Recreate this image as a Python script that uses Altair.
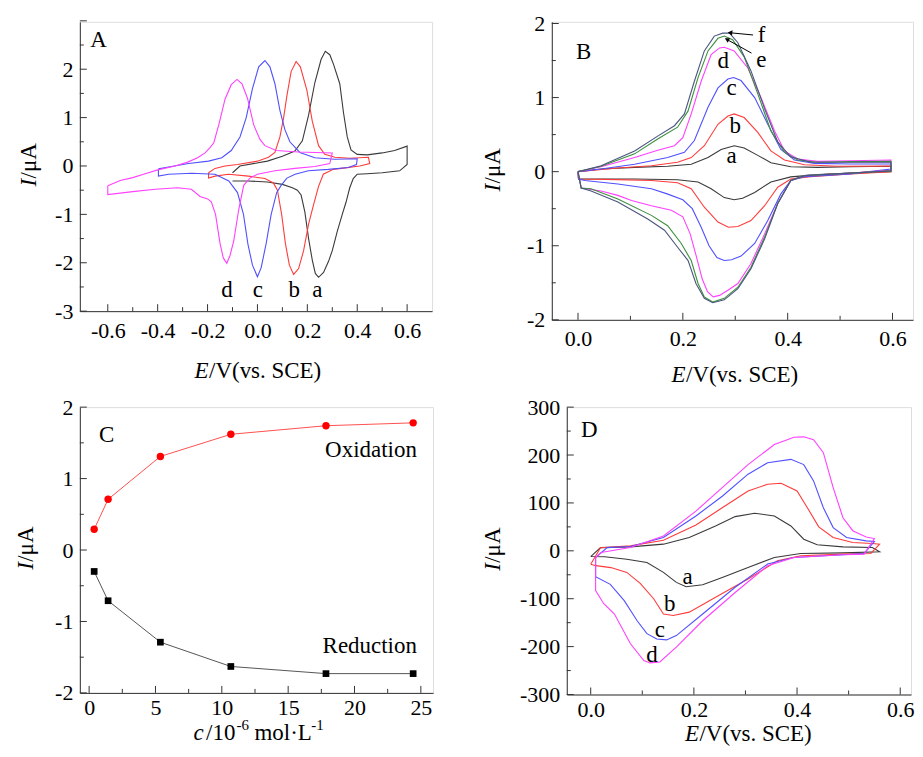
import altair as alt
import pandas as pd

FONT = "Liberation Serif, Times New Roman, Times, DejaVu Serif, serif"
TICK_FS = 22
TITLE_FS = 23
AXC = "#333333"
BLACK = "#3a3a3a"
RED = "#ff3c3c"
BLUE = "#5050ff"
MAG = "#ff40ff"
GREEN = "#3d8f3d"
SLATE = "#4b5680"

# ---------------- Panel A ----------------
A_a_E = [-0.10, -0.07, 0.04, 0.10, 0.15, 0.18, 0.205, 0.23, 0.255, 0.272, 0.29, 0.305, 0.33, 0.345, 0.36, 0.375, 0.40, 0.44, 0.50, 0.55, 0.60,
         0.60, 0.57, 0.50, 0.44, 0.40, 0.384, 0.37, 0.355, 0.34, 0.32, 0.30, 0.285, 0.265, 0.245, 0.232, 0.22, 0.205, 0.19, 0.175, 0.16, 0.14, 0.10, 0.04, -0.04, -0.10]
A_a_I = [-0.14, 0.0, 0.10, 0.20, 0.31, 0.52, 1.05, 1.72, 2.20, 2.37, 2.30, 2.10, 1.70, 1.10, 0.60, 0.33, 0.24, 0.23, 0.27, 0.32, 0.41,
         0.03, -0.10, -0.14, -0.16, -0.17, -0.26, -0.45, -0.75, -1.00, -1.35, -1.75, -1.97, -2.20, -2.30, -2.22, -1.95, -1.50, -0.95, -0.60, -0.50, -0.45, -0.38, -0.33, -0.31, -0.31]

A_b_E = [-0.196, -0.17, -0.13, -0.08, 0.0, 0.044, 0.07, 0.09, 0.105, 0.118, 0.135, 0.155, 0.172, 0.198, 0.22, 0.245, 0.27, 0.31, 0.37, 0.445,
         0.45, 0.41, 0.337, 0.304, 0.264, 0.245, 0.225, 0.205, 0.185, 0.165, 0.145, 0.128, 0.112, 0.097, 0.08, 0.064, 0.03, -0.036, -0.116, -0.17, -0.196, -0.196]
A_b_I = [-0.14, -0.05, 0.0, 0.03, 0.10, 0.18, 0.28, 0.60, 1.00, 1.45, 1.95, 2.16, 2.05, 1.57, 0.92, 0.42, 0.24, 0.18, 0.16, 0.18,
         0.05, 0.0, -0.05, -0.07, -0.17, -0.42, -0.80, -1.20, -1.75, -2.12, -2.24, -2.05, -1.60, -1.00, -0.50, -0.35, -0.26, -0.21, -0.17, -0.21, -0.25, -0.14]

A_c_E = [-0.397, -0.356, -0.276, -0.196, -0.143, -0.105, -0.07, -0.045, -0.02, 0.005, 0.03, 0.05, 0.07, 0.09, 0.11, 0.13, 0.17, 0.23, 0.31, 0.40,
         0.397, 0.364, 0.284, 0.204, 0.151, 0.118, 0.095, 0.077, 0.055, 0.035, 0.015, 0.0, -0.02, -0.038, -0.056, -0.08, -0.115, -0.17, -0.263, -0.356, -0.397, -0.397]
A_c_I = [-0.06, -0.02, 0.05, 0.10, 0.17, 0.32, 0.60, 1.00, 1.60, 2.05, 2.18, 2.05, 1.70, 1.15, 0.75, 0.50, 0.28, 0.17, 0.14, 0.15,
         0.03, -0.03, -0.07, -0.10, -0.17, -0.25, -0.40, -0.55, -1.00, -1.60, -2.10, -2.29, -2.05, -1.62, -1.00, -0.55, -0.31, -0.17, -0.15, -0.17, -0.21, -0.06]

A_d_E = [-0.60, -0.55, -0.50, -0.45, -0.40, -0.33, -0.28, -0.24, -0.21, -0.19, -0.175, -0.155, -0.13, -0.105, -0.082, -0.062, -0.04, -0.015, 0.01, 0.03, 0.075, 0.165, 0.30,
         0.29, 0.23, 0.15, 0.07, 0.0, -0.03, -0.055, -0.075, -0.095, -0.11, -0.123, -0.137, -0.15, -0.168, -0.185, -0.20, -0.23, -0.265, -0.32, -0.41, -0.50, -0.60, -0.60]
A_d_I = [-0.41, -0.30, -0.24, -0.16, -0.08, 0.0, 0.08, 0.17, 0.27, 0.38, 0.48, 0.85, 1.38, 1.68, 1.79, 1.70, 1.40, 0.85, 0.55, 0.42, 0.32, 0.29, 0.27,
         0.05, -0.01, -0.05, -0.10, -0.17, -0.25, -0.40, -0.90, -1.55, -1.85, -2.01, -1.90, -1.60, -1.00, -0.74, -0.68, -0.63, -0.48, -0.45, -0.48, -0.53, -0.59, -0.41]

A_lab_x = [-0.122, 0.002, 0.147, 0.24]
A_lab_y = [-2.57, -2.57, -2.57, -2.57]
A_lab_t = ["d", "c", "b", "a"]

A_xmajor = [-0.6, -0.4, -0.2, 0.0, 0.2, 0.4, 0.6]
A_xminor = [-0.5, -0.3, -0.1, 0.1, 0.3, 0.5]
A_ymajor = [-3, -2, -1, 0, 1, 2, 3]
A_yminor = [-2.5, -1.5, -0.5, 0.5, 1.5, 2.5]

# ---------------- Panel B ----------------
B_a_E = [0.0, 0.044, 0.108, 0.171, 0.216, 0.248, 0.273, 0.298, 0.317, 0.343, 0.368, 0.406, 0.457, 0.52, 0.597,
         0.597, 0.52, 0.457, 0.406, 0.368, 0.337, 0.314, 0.298, 0.279, 0.254, 0.229, 0.19, 0.108, 0.001, 0.0]
B_a_I = [0.0, 0.036, 0.058, 0.072, 0.10, 0.19, 0.30, 0.35, 0.32, 0.22, 0.12, 0.067, 0.058, 0.067, 0.072,
         0.0, -0.02, -0.04, -0.07, -0.14, -0.28, -0.36, -0.38, -0.35, -0.23, -0.14, -0.11, -0.10, -0.10, 0.0]

B_b_E = [0.0, 0.076, 0.14, 0.19, 0.216, 0.241, 0.267, 0.286, 0.298, 0.317, 0.343, 0.368, 0.394, 0.432, 0.495, 0.597,
         0.597, 0.52, 0.444, 0.406, 0.381, 0.356, 0.33, 0.305, 0.287, 0.267, 0.241, 0.216, 0.19, 0.14, 0.076, 0.001, 0.0]
B_b_I = [0.0, 0.05, 0.08, 0.126, 0.19, 0.35, 0.64, 0.75, 0.78, 0.73, 0.53, 0.28, 0.157, 0.094, 0.072, 0.076,
         0.0, -0.03, -0.067, -0.10, -0.21, -0.46, -0.66, -0.74, -0.75, -0.68, -0.48, -0.23, -0.15, -0.12, -0.108, -0.10, 0.0]

B_c_E = [0.0, 0.044, 0.108, 0.171, 0.203, 0.222, 0.248, 0.267, 0.286, 0.297, 0.311, 0.337, 0.362, 0.387, 0.413, 0.451, 0.52, 0.597,
         0.597, 0.52, 0.432, 0.406, 0.387, 0.362, 0.337, 0.311, 0.293, 0.279, 0.265, 0.25, 0.235, 0.218, 0.20, 0.17, 0.14, 0.076, 0.013, 0.001, 0.0]
B_c_I = [0.0, 0.036, 0.10, 0.19, 0.26, 0.42, 0.87, 1.13, 1.25, 1.27, 1.23, 1.00, 0.64, 0.30, 0.157, 0.112, 0.103, 0.103,
         0.036, -0.03, -0.067, -0.12, -0.30, -0.66, -0.97, -1.14, -1.19, -1.20, -1.16, -1.00, -0.75, -0.50, -0.38, -0.30, -0.23, -0.166, -0.12, -0.10, 0.0]

B_d_E = [0.0, 0.044, 0.108, 0.152, 0.184, 0.20, 0.216, 0.235, 0.254, 0.27, 0.279, 0.298, 0.324, 0.349, 0.375, 0.394, 0.419, 0.457, 0.52, 0.597,
         0.597, 0.52, 0.432, 0.406, 0.381, 0.356, 0.33, 0.305, 0.286, 0.27, 0.258, 0.247, 0.237, 0.226, 0.214, 0.20, 0.178, 0.14, 0.102, 0.076, 0.044, 0.006, 0.0]
B_d_I = [0.0, 0.067, 0.19, 0.29, 0.35, 0.46, 0.78, 1.22, 1.58, 1.67, 1.68, 1.63, 1.40, 1.00, 0.55, 0.28, 0.17, 0.139, 0.148, 0.157,
         0.02, -0.02, -0.054, -0.12, -0.43, -0.84, -1.24, -1.51, -1.60, -1.67, -1.69, -1.62, -1.45, -1.15, -0.84, -0.61, -0.52, -0.46, -0.39, -0.32, -0.26, -0.22, 0.0]

B_e_E = [0.0, 0.044, 0.108, 0.152, 0.19, 0.21, 0.229, 0.248, 0.267, 0.279, 0.295, 0.317, 0.343, 0.368, 0.394, 0.419, 0.457, 0.52, 0.597,
         0.597, 0.52, 0.432, 0.406, 0.381, 0.356, 0.33, 0.305, 0.279, 0.257, 0.241, 0.229, 0.216, 0.197, 0.171, 0.14, 0.076, 0.025, 0.006, 0.0]
B_e_I = [0.0, 0.072, 0.24, 0.44, 0.60, 0.82, 1.27, 1.63, 1.80, 1.83, 1.78, 1.55, 1.05, 0.55, 0.26, 0.157, 0.126, 0.135, 0.139,
         0.01, -0.02, -0.054, -0.12, -0.43, -0.88, -1.29, -1.56, -1.71, -1.76, -1.69, -1.51, -1.20, -0.97, -0.73, -0.59, -0.37, -0.23, -0.22, 0.0]

B_f_E = [0.0, 0.044, 0.108, 0.152, 0.184, 0.203, 0.222, 0.241, 0.26, 0.276, 0.289, 0.305, 0.33, 0.356, 0.381, 0.406, 0.444, 0.52, 0.597,
         0.597, 0.52, 0.432, 0.406, 0.381, 0.356, 0.33, 0.305, 0.279, 0.257, 0.241, 0.225, 0.21, 0.19, 0.165, 0.133, 0.076, 0.025, 0.006, 0.0]
B_f_I = [0.0, 0.081, 0.28, 0.48, 0.62, 0.78, 1.22, 1.63, 1.83, 1.87, 1.87, 1.74, 1.36, 0.85, 0.40, 0.20, 0.126, 0.126, 0.126,
         0.01, -0.02, -0.054, -0.12, -0.43, -0.91, -1.31, -1.58, -1.73, -1.77, -1.71, -1.51, -1.20, -1.02, -0.79, -0.64, -0.41, -0.26, -0.22, 0.0]

B_lab_x = [0.293, 0.30, 0.293, 0.277, 0.35, 0.35]
B_lab_y = [0.21, 0.62, 1.13, 1.49, 1.51, 1.845]
B_lab_t = ["a", "b", "c", "d", "e", "f"]

B_arr_x = [0.334, 0.331]
B_arr_y = [1.845, 1.60]
B_arr_x2 = [0.29, 0.284]
B_arr_y2 = [1.875, 1.785]
B_arr_ang = [276, 298]

B_xmajor = [0.0, 0.2, 0.4, 0.6]
B_xminor = [0.1, 0.3, 0.5]
B_ymajor = [-2, -1, 0, 1, 2]
B_yminor = [-1.5, -0.5, 0.5, 1.5]

# ---------------- Panel C ----------------
C_conc = [0.38, 1.43, 5.37, 10.68, 17.85, 24.42]
C_ox = [0.29, 0.71, 1.31, 1.62, 1.74, 1.78]
C_red = [-0.30, -0.71, -1.29, -1.63, -1.73, -1.73]

C_xmajor = [0, 5, 10, 15, 20, 25]
C_xminor = [2.5, 7.5, 12.5, 17.5, 22.5]
C_ymajor = [-2, -1, 0, 1, 2]
C_yminor = [-1.5, -0.5, 0.5, 1.5]

# ---------------- Panel D ----------------
D_a_E = [0.0, 0.019, 0.077, 0.141, 0.191, 0.242, 0.28, 0.318, 0.356, 0.388, 0.413, 0.439, 0.489, 0.546,
         0.56, 0.489, 0.407, 0.356, 0.305, 0.255, 0.217, 0.185, 0.166, 0.141, 0.109, 0.07, 0.027, 0.0]
D_a_I = [-12, 6.6, 8.3, 13.9, 27.7, 52, 71.4, 78.4, 72.8, 52, 24.3, 12.5, 8.3, 6.9,
         -2, -4.2, -5.5, -13.9, -34.7, -55.5, -70.7, -74.9, -65.9, -45, -24.3, -17.7, -12.5, -12]

D_b_E = [0.0, 0.019, 0.077, 0.141, 0.204, 0.255, 0.305, 0.343, 0.369, 0.40, 0.42, 0.442, 0.47, 0.508, 0.546, 0.56,
         0.543, 0.489, 0.407, 0.362, 0.305, 0.242, 0.191, 0.16, 0.141, 0.122, 0.096, 0.07, 0.039, 0.01, 0.0]
D_b_I = [-28, 6.6, 10.4, 22.2, 54, 90, 125, 139, 141, 125, 90, 50, 27.7, 17.3, 15.3, 13.9,
         -5.5, -6.9, -10.4, -20.8, -59, -97, -128, -135, -132, -100, -68, -45, -35, -31, -28]

D_c_E = [0.0095, 0.032, 0.077, 0.141, 0.204, 0.255, 0.305, 0.343, 0.388, 0.413, 0.432, 0.451, 0.47, 0.496, 0.534, 0.55,
         0.53, 0.489, 0.394, 0.343, 0.28, 0.217, 0.166, 0.147, 0.128, 0.109, 0.09, 0.065, 0.038, 0.0095, 0.0095]
D_c_I = [-14, 6.6, 9, 27.7, 72.8, 114, 160, 184, 191, 180, 146, 90, 48.5, 27.7, 20.8, 19.4,
         -5.5, -8.3, -13.9, -27.7, -76, -132, -177, -186, -184, -173, -146, -104, -70, -54, -14]

D_d_E = [0.0095, 0.02, 0.077, 0.141, 0.204, 0.255, 0.305, 0.356, 0.394, 0.413, 0.432, 0.451, 0.47, 0.489, 0.508, 0.534, 0.55,
         0.53, 0.489, 0.394, 0.343, 0.28, 0.217, 0.166, 0.134, 0.115, 0.103, 0.077, 0.046, 0.025, 0.0095, 0.0095]
D_d_I = [-14, -3.5, 7, 31, 83, 132, 180, 222, 237, 238, 232, 205, 132, 69, 42, 29, 25.6,
         -7, -8.3, -13.9, -31, -87, -146, -201, -232, -234, -229, -194, -132, -110, -83, -14]

D_lab_x = [0.188, 0.153, 0.134, 0.119]
D_lab_y = [-55.5, -112, -166, -218]
D_lab_t = ["a", "b", "c", "d"]

D_xmajor = [0.0, 0.2, 0.4, 0.6]
D_xminor = [0.1, 0.3, 0.5]
D_ymajor = [-300, -200, -100, 0, 100, 200, 300]
D_yminor = [-250, -150, -50, 50, 150, 250]

ONE = pd.DataFrame({"z": [0]})


def label_expr(fmt):
    return "(datum.value < 0 ? '-' : '') + format(abs(datum.value), '%s')" % fmt


def make_xy(xdom, ydom, xvals, yvals, xfmt, yfmt, xpad=9, ypad=7):
    xs = alt.Scale(domain=xdom, nice=False, zero=False)
    ys = alt.Scale(domain=ydom, nice=False, zero=False)
    common = dict(ticks=False, grid=False, title=None, domainColor=AXC, labelFont=FONT,
                  labelFontSize=TICK_FS, labelColor="black", labelOverlap=False,
                  labelFlush=False)
    xa = alt.Axis(values=xvals, labelExpr=label_expr(xfmt), labelPadding=xpad, **common)
    ya = alt.Axis(values=yvals, labelExpr=label_expr(yfmt), labelPadding=ypad, **common)

    def X(f):
        return alt.X(f, type="quantitative", scale=xs, axis=xa)

    def Y(f):
        return alt.Y(f, type="quantitative", scale=ys, axis=ya)
    return X, Y


def curve(X, Y, E, I, color, width=1.1):
    df = pd.DataFrame({"E": E, "I": I, "k": list(range(len(E)))})
    return alt.Chart(df).mark_line(color=color, strokeWidth=width).encode(
        x=X("E"), y=Y("I"), order=alt.Order("k:Q"))


def ticks_x(X, vals, H, L):
    return alt.Chart(pd.DataFrame({"v": vals})).mark_rule(color=AXC, strokeWidth=1).encode(
        x=X("v"), y=alt.value(H), y2=alt.value(H - L))


def ticks_y(Y, vals, L):
    return alt.Chart(pd.DataFrame({"v": vals})).mark_rule(color=AXC, strokeWidth=1).encode(
        y=Y("v"), x=alt.value(0), x2=alt.value(L))


def labels(X, Y, xv, yv, tv, size=TITLE_FS, align="center"):
    df = pd.DataFrame({"x": xv, "y": yv, "t": tv})
    return alt.Chart(df).mark_text(font=FONT, fontSize=size, align=align, baseline="middle",
                                   color="black").encode(x=X("x"), y=Y("y"), text="t:N")


def ptext(txt, x, y, size=TITLE_FS, italic=False, angle=0, dx=0):
    props = dict(text=txt, font=FONT, fontSize=size, align="left", baseline="middle", color="black")
    if italic:
        props["fontStyle"] = "italic"
    if angle:
        props["angle"] = angle
    if dx:
        props["dx"] = dx
    return alt.Chart(ONE).mark_text(**props).encode(x=alt.value(x), y=alt.value(y))


def ytitle(cx, yc):
    yb = yc + 20
    return [ptext("I", cx, yb, italic=True, angle=270),
            ptext("/\u03bcA", cx, yb, angle=270, dx=8)]


def xtitle_E(xc, ty):
    x0 = xc - 63
    return [ptext("E", x0, ty, italic=True), ptext("/V(vs. SCE)", x0 + 14.5, ty)]


def xtitle_c(xc, ty):
    x0 = xc - 64
    return [ptext("c", x0, ty, italic=True),
            ptext("/10", x0 + 12.5, ty),
            ptext("-6", x0 + 43, ty - 8, size=15),
            ptext("mol\u00b7L", x0 + 61, ty),
            ptext("-1", x0 + 118, ty - 8, size=15)]


def frame_ticks(X, Y, H, xmaj, xmin, ymaj, ymin):
    return [ticks_x(X, xmaj, H, 7), ticks_x(X, xmin, H, 4),
            ticks_y(Y, ymaj, 7), ticks_y(Y, ymin, 4)]


# ---------- Panel A ----------
WA, HA = 353, 290
X, Y = make_xy([-0.712, 0.7], [-3, 2.98], A_xmajor, A_ymajor, ".1f", "d", xpad=9)
A_layers = frame_ticks(X, Y, HA, A_xmajor, A_xminor, A_ymajor, A_yminor)
A_layers += [curve(X, Y, A_a_E, A_a_I, BLACK), curve(X, Y, A_b_E, A_b_I, RED),
             curve(X, Y, A_c_E, A_c_I, BLUE), curve(X, Y, A_d_E, A_d_I, MAG)]
A_layers += [labels(X, Y, A_lab_x, A_lab_y, A_lab_t), labels(X, Y, [-0.637], [2.60], ["A"])]
A_layers += ytitle(-51, 145) + xtitle_E(178, 350)
panelA = alt.layer(*A_layers).properties(width=WA, height=HA)

# ---------- Panel B ----------
WB, HB = 362, 298.7
X, Y = make_xy([-0.05, 0.6391], [-2, 2.023], B_xmajor, B_ymajor, ".1f", "d", xpad=9)
B_layers = frame_ticks(X, Y, HB, B_xmajor, B_xminor, B_ymajor, B_yminor)
B_layers += [curve(X, Y, B_a_E, B_a_I, BLACK), curve(X, Y, B_b_E, B_b_I, RED),
             curve(X, Y, B_c_E, B_c_I, BLUE), curve(X, Y, B_d_E, B_d_I, MAG),
             curve(X, Y, B_e_E, B_e_I, GREEN), curve(X, Y, B_f_E, B_f_I, SLATE)]
arr = pd.DataFrame({"x": B_arr_x, "y": B_arr_y, "x2": B_arr_x2, "y2": B_arr_y2, "a": B_arr_ang})
B_layers += [
    alt.Chart(arr).mark_rule(color="black", strokeWidth=1).encode(
        x=X("x"), y=Y("y"), x2=alt.X2("x2"), y2=alt.Y2("y2")),
    alt.Chart(arr).mark_point(shape="triangle-up", filled=True, size=28, color="black", opacity=1).encode(
        x=X("x2"), y=Y("y2"), angle=alt.Angle("a:Q", scale=None)),
]
B_layers += [labels(X, Y, B_lab_x, B_lab_y, B_lab_t), labels(X, Y, [0.011], [1.61], ["B"])]
B_layers += ytitle(-59, 150) + xtitle_E(183, 354)
panelB = alt.layer(*B_layers).properties(width=WB, height=HB)

# ---------- Panel C ----------
WC, HC = 354, 286.4
X, Y = make_xy([-0.70, 25.92], [-2, 2], C_xmajor, C_ymajor, "d", "d", xpad=5)
ox = pd.DataFrame({"c": C_conc, "i": C_ox})
rd = pd.DataFrame({"c": C_conc, "i": C_red})
C_layers = frame_ticks(X, Y, HC, C_xmajor, C_xminor, C_ymajor, C_yminor)
C_layers += [
    alt.Chart(ox).mark_line(color="#ff5050", strokeWidth=1).encode(x=X("c"), y=Y("i")),
    alt.Chart(ox).mark_point(shape="circle", filled=True, size=55, color="#ff0000", opacity=1).encode(x=X("c"), y=Y("i")),
    alt.Chart(rd).mark_line(color="#555555", strokeWidth=1).encode(x=X("c"), y=Y("i")),
    alt.Chart(rd).mark_point(shape="square", filled=True, size=45, color="#000000", opacity=1).encode(x=X("c"), y=Y("i")),
]
C_layers += [labels(X, Y, [1.33], [1.61], ["C"]),
             labels(X, Y, [24.7, 24.7], [1.40, -1.34], ["Oxidation", "Reduction"], align="right")]
C_layers += ytitle(-54, 143) + xtitle_c(178, 327)
panelC = alt.layer(*C_layers).properties(width=WC, height=HC)

# ---------- Panel D ----------
WD, HD = 345, 288
X, Y = make_xy([-0.0464, 0.6209], [-300, 300], D_xmajor, D_ymajor, ".1f", "d", xpad=5)
D_layers = frame_ticks(X, Y, HD, D_xmajor, D_xminor, D_ymajor, D_yminor)
D_layers += [curve(X, Y, D_a_E, D_a_I, BLACK), curve(X, Y, D_b_E, D_b_I, RED),
             curve(X, Y, D_c_E, D_c_I, BLUE), curve(X, Y, D_d_E, D_d_I, MAG)]
D_layers += [labels(X, Y, D_lab_x, D_lab_y, D_lab_t), labels(X, Y, [-0.003], [253], ["D"])]
D_layers += ytitle(-74, 144) + xtitle_E(181.5, 327.5)
panelD = alt.layer(*D_layers).properties(width=WD, height=HD)

chart = alt.concat(
    panelA, panelB, panelC, panelD,
    columns=2, align="none",
    spacing={"row": 7.2, "column": 47},
).properties(
    padding={"left": 6, "top": 3, "right": 0, "bottom": 0}
).configure_view(stroke="#666666", strokeWidth=1).configure(background="white")

chart.save("out.html", embed_options={"renderer": "svg", "actions": False})
